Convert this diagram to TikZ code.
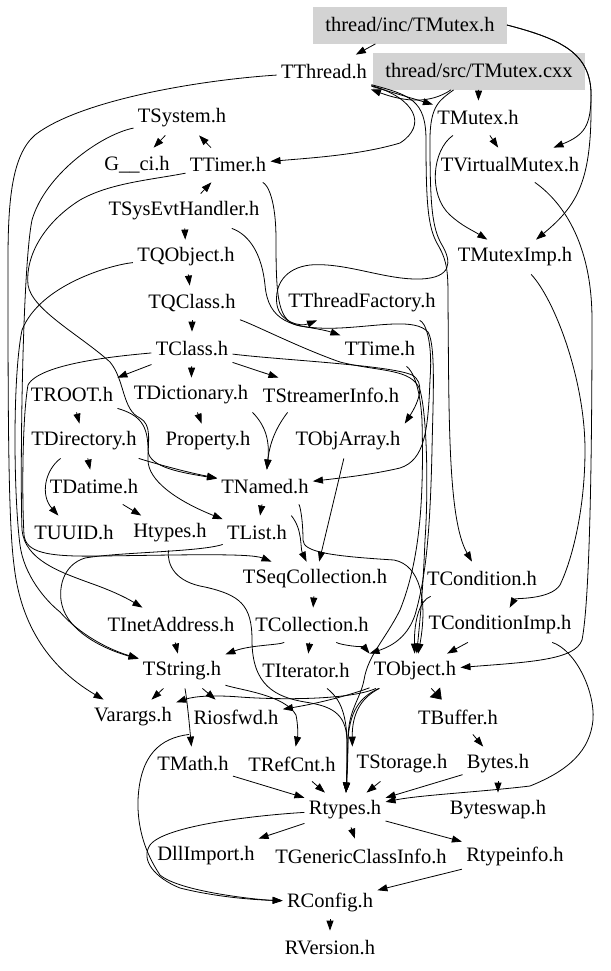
\documentclass[tikz,border=0pt]{standalone}
\usepackage{fontspec}
\setmainfont{Liberation Serif}
\usepackage{tikz}
\usetikzlibrary{arrows.meta}
\definecolor{boxgray}{HTML}{D3D3D3}

\begin{document}
\begin{tikzpicture}[x=0.5pt,y=-0.5pt,
    hdr/.style={font=\fontsize{10.25pt}{12pt}\selectfont,inner xsep=2pt,inner ysep=0pt,minimum height=17pt},
    src/.style={hdr,fill=boxgray,inner xsep=6pt,minimum height=18.5pt},
    e/.style={-{Triangle[length=5pt,width=3.5pt]},line width=0.4pt},
    ew/.style={-{Triangle[length=5pt,width=7pt]},line width=0.4pt}]
\useasboundingbox (0,0) rectangle (611,971);

    \node[src] (inc) at (410,25) {thread/inc/TMutex.h};
    \node[src] (cxx) at (479,71) {thread/src/TMutex.cxx};
    \node[hdr] (thr) at (324,72) {TThread.h};
    \node[hdr] (sys) at (182,118) {TSystem.h};
    \node[hdr] (mtx) at (478,118) {TMutex.h};
    \node[hdr] (gci) at (137,165) {G\_\_ci.h};
    \node[hdr] (tmr) at (228,165) {TTimer.h};
    \node[hdr] (vmx) at (510,165) {TVirtualMutex.h};
    \node[hdr] (seh) at (184,211) {TSysEvtHandler.h};
    \node[hdr] (qob) at (186,257) {TQObject.h};
    \node[hdr] (mimp) at (515,257) {TMutexImp.h};
    \node[hdr] (qcl) at (192,303) {TQClass.h};
    \node[hdr] (tfac) at (362,303) {TThreadFactory.h};
    \node[hdr] (cls) at (192,349) {TClass.h};
    \node[hdr] (tim) at (380,349) {TTime.h};
    \node[hdr] (root) at (72,395) {TROOT.h};
    \node[hdr] (dict) at (191,395) {TDictionary.h};
    \node[hdr] (sinfo) at (331,395) {TStreamerInfo.h};
    \node[hdr] (dir) at (84,441) {TDirectory.h};
    \node[hdr] (prop) at (208,441) {Property.h};
    \node[hdr] (oarr) at (348,441) {TObjArray.h};
    \node[hdr] (dat) at (94,487) {TDatime.h};
    \node[hdr] (nam) at (265,487) {TNamed.h};
    \node[hdr] (uuid) at (74,533) {TUUID.h};
    \node[hdr] (hty) at (170,533) {Htypes.h};
    \node[hdr] (lst) at (257,533) {TList.h};
    \node[hdr] (seqc) at (315,579) {TSeqCollection.h};
    \node[hdr] (cond) at (482,579) {TCondition.h};
    \node[hdr] (inet) at (171,625) {TInetAddress.h};
    \node[hdr] (coll) at (312,625) {TCollection.h};
    \node[hdr] (cimp) at (500,625) {TConditionImp.h};
    \node[hdr] (str) at (182,671) {TString.h};
    \node[hdr] (iter) at (306,671) {TIterator.h};
    \node[hdr] (obj) at (415,671) {TObject.h};
    \node[hdr] (var) at (133,717) {Varargs.h};
    \node[hdr] (rios) at (236,717) {Riosfwd.h};
    \node[hdr] (buf) at (458,717) {TBuffer.h};
    \node[hdr] (math) at (193,764) {TMath.h};
    \node[hdr] (ref) at (292,764) {TRefCnt.h};
    \node[hdr] (stor) at (402,764) {TStorage.h};
    \node[hdr] (byt) at (498,764) {Bytes.h};
    \node[hdr] (rty) at (345,810) {Rtypes.h};
    \node[hdr] (bsw) at (498,810) {Byteswap.h};
    \node[hdr] (dll) at (206,856) {DllImport.h};
    \node[hdr] (gcls) at (361,856) {TGenericClassInfo.h};
    \node[hdr] (rti) at (515,856) {Rtypeinfo.h};
    \node[hdr] (rcf) at (330,902) {RConfig.h};
    \node[hdr] (rver) at (330,948) {RVersion.h};

    % top: the two mutex files
    \draw[e] (inc) -- (thr);
    \draw[e] (inc.east) .. controls (565,40) and (593,55) .. (591,100) .. controls (590,125) and (585,135) .. (vmx);
    \draw[e] (inc.east) .. controls (565,40) and (593,55) .. (591,100) .. controls (592,180) and (578,205) .. (mimp);
    \draw[e] (cxx) -- (mtx);
    \draw[e] (cxx) .. controls (430,104) and (405,102) .. (thr);
    \draw[e] (cxx) .. controls (440,100) and (430,105) .. (430,140) .. controls (430,205) and (432,228) .. (442,245) .. controls (452,262) and (452,278) .. (420,279) .. controls (385,280) and (345,262) .. (310,265) .. controls (285,268) and (274,285) .. (277,305) .. controls (280,322) and (300,327) .. (tfac);
    \draw[e] (thr) -- (mtx);
    \draw[e] (thr) .. controls (415,98) and (428,125) .. (400,143) .. controls (360,155) and (310,158) .. (tmr);
    \draw[e] (thr) .. controls (410,95) and (426,100) .. (426,140) .. controls (426,205) and (428,228) .. (438,245) .. controls (448,262) and (448,275) .. (448,300) .. controls (449,420) and (448,520) .. (cond);
    \draw[e] (thr) .. controls (200,80) and (80,100) .. (35,135) .. controls (12,155) and (8,200) .. (8,260) .. controls (8,400) and (8,520) .. (14,565) .. controls (20,620) and (45,665) .. (var);
    \draw[e] (mtx) -- (vmx);
    \draw[e] (mtx) .. controls (432,150) and (428,195) .. (450,215) .. controls (462,226) and (472,230) .. (mimp);
    \draw[e] (vmx) .. controls (560,200) and (592,240) .. (592,320) .. controls (592,450) and (590,600) .. (582,640) .. controls (575,660) and (530,662) .. (obj);
    \draw[e] (mimp) .. controls (555,300) and (585,380) .. (585,450) .. controls (585,510) and (572,560) .. (560,585) .. controls (550,600) and (515,598) .. (cimp);

    % system and timer
    \draw[e] (sys) -- (gci);
    \draw[e] (tmr) -- (sys);
    \draw[e] (seh) -- (tmr);
    \draw[e] (seh) -- (qob);
    \draw[e] (sys) .. controls (100,135) and (45,175) .. (32,220) .. controls (22,270) and (20,480) .. (22,530) .. controls (25,560) and (60,572) .. (90,583) .. controls (110,590) and (125,597) .. (inet);
    \draw[e] (tmr) .. controls (150,180) and (110,183) .. (80,200) .. controls (45,222) and (25,255) .. (28,285) .. controls (32,310) and (80,335) .. (110,362) .. controls (125,380) and (122,410) .. (140,418) .. controls (152,425) and (148,440) .. (148,460) .. controls (148,480) and (175,500) .. (lst);
    \draw[e] (tmr) .. controls (268,185) and (276,200) .. (276,240) .. controls (276,300) and (278,322) .. (300,326) .. controls (312,328) and (325,330) .. (tim);
    \draw[e] (seh) .. controls (250,235) and (262,255) .. (265,285) .. controls (268,320) and (290,330) .. (340,328) .. controls (380,326) and (415,318) .. (428,332) .. controls (436,345) and (433,400) .. (432,450) .. controls (430,540) and (425,580) .. (415,615) .. controls (408,635) and (395,645) .. (obj.north west);
    \draw[e] (tim) .. controls (412,370) and (420,385) .. (422,420) .. controls (424,500) and (420,560) .. (400,610) .. controls (385,640) and (368,655) .. (364,680) .. controls (360,700) and (348,710) .. (348,740) .. controls (348,760) and (347,775) .. (rty);

    % class tree
    \draw[e] (qob) -- (qcl);
    \draw[e] (qob) .. controls (110,265) and (40,285) .. (22,330) .. controls (12,380) and (14,500) .. (20,545) .. controls (24,575) and (45,600) .. (60,612) .. controls (80,635) and (110,650) .. (str);
    \draw[e] (qcl) -- (cls);
    \draw[e] (qcl) .. controls (255,325) and (300,348) .. (340,362) .. controls (380,372) and (412,368) .. (420,390) .. controls (428,420) and (428,500) .. (425,540) .. controls (423,590) and (420,620) .. (obj);
    \draw[e] (cls) -- (root);
    \draw[e] (cls) -- (dict);
    \draw[e] (cls) -- (sinfo);
    \draw[e] (cls) .. controls (280,360) and (390,365) .. (412,375) .. controls (425,382) and (420,400) .. (oarr.north east);
    \draw[e] (cls) .. controls (130,355) and (40,362) .. (28,385) .. controls (22,420) and (22,500) .. (24,535) .. controls (26,552) and (45,557) .. (100,556) .. controls (180,555) and (250,553) .. (seqc);
    \draw[e] (tfac) .. controls (425,322) and (433,340) .. (430,380) .. controls (428,430) and (425,460) .. (400,468) .. controls (370,475) and (340,478) .. (nam);
    \draw[e] (root) -- (dir);
    \draw[e] (root) .. controls (140,415) and (148,425) .. (148,450) .. controls (148,468) and (185,473) .. (nam);
    \draw[e] (dict) -- (prop);
    \draw[e] (dict.south east) .. controls (265,425) and (270,440) .. (nam);
    \draw[e] ([xshift=14.5pt]sinfo.south west) .. controls (278,425) and (270,440) .. (nam);
    \draw[e] (dir) -- (dat);
    \draw[e] (dir) .. controls (45,470) and (40,495) .. (uuid);
    \draw[e] (dir) .. controls (150,462) and (185,472) .. (nam);
    \draw[e] (dat) -- (hty);
    \draw[e] (nam) -- (lst);
    \draw[e] (nam) .. controls (300,505) and (303,520) .. (303,540) .. controls (303,552) and (330,556) .. (394,560) .. controls (420,565) and (428,600) .. (obj);
    \draw[e] (lst.north east) .. controls (303,530) and (300,548) .. (seqc);
    \draw[e] (lst) .. controls (200,552) and (120,552) .. (85,558) .. controls (62,565) and (58,590) .. (62,605) .. controls (68,630) and (100,648) .. (str);
    \draw[e] (hty) .. controls (167,565) and (175,582) .. (205,587) .. controls (240,595) and (252,605) .. (252,640) .. controls (252,685) and (275,697) .. (305,702) .. controls (330,706) and (346,712) .. (347,740) .. controls (347,760) and (347,775) .. (rty);

    % collections
    \draw[e] (oarr) -- (seqc);
    \draw[e] (seqc) -- (coll);
    \draw[e] (coll) -- (iter);
    \draw[e] (coll) .. controls (280,645) and (250,645) .. (str);
    \draw[e] (coll) .. controls (340,645) and (365,648) .. (obj.north west);
    \draw[e] (inet) -- (str);
    \draw[e] (cond) .. controls (420,600) and (414,620) .. (obj);
    \draw[e] (cimp) -- (obj);
    \draw[e] (cimp) .. controls (575,650) and (595,690) .. (593,720) .. controls (590,750) and (570,770) .. (530,786) .. controls (480,792) and (420,795) .. (rty);

    % string and object
    \draw[e] (str) -- (var);
    \draw[e] (str) -- (rios);
    \draw[e] (str) .. controls (187,700) and (189,720) .. (math);
    \draw[e] (str) .. controls (240,690) and (285,695) .. (296,715) .. controls (298,725) and (298,735) .. (ref);
    \draw[e] (iter) .. controls (335,695) and (346,705) .. (347,740) .. controls (347,760) and (347,775) .. (rty);
    \draw[e] (obj) .. controls (365,695) and (350,705) .. (348,740) .. controls (347,760) and (347,775) .. (rty);
    \draw[e] (obj) .. controls (360,698) and (352,715) .. (stor.north west);
    \draw[e] (obj) .. controls (350,695) and (320,703) .. (rios);
    \draw[e] (obj) .. controls (350,700) and (280,700) .. (240,697) .. controls (215,695) and (195,696) .. (var);
    \draw[ew] (obj) -- (buf);
    \draw[e] (buf) -- (byt);

    % basic types
    \draw[e] (math) -- (rty);
    \draw[e] (ref) -- (rty);
    \draw[e] (stor) -- (rty);
    \draw[e] (byt) -- (rty);
    \draw[e] (byt) -- (bsw);
    \draw[e] (rty) -- (dll);
    \draw[e] (rty) -- (gcls);
    \draw[e] (rty) -- (rti);
    \draw[e] (rios.south west) .. controls (160,738) and (140,755) .. (138,800) .. controls (137,835) and (150,860) .. (160,875) .. controls (180,892) and (260,900) .. (rcf);
    \draw[e] (rty) .. controls (260,815) and (165,825) .. (150,845) .. controls (140,860) and (155,878) .. (180,888) .. controls (220,898) and (260,900) .. (rcf);
    \draw[e] (rti) -- (rcf);
    \draw[e] (rcf) -- (rver);
\end{tikzpicture}
\end{document}
